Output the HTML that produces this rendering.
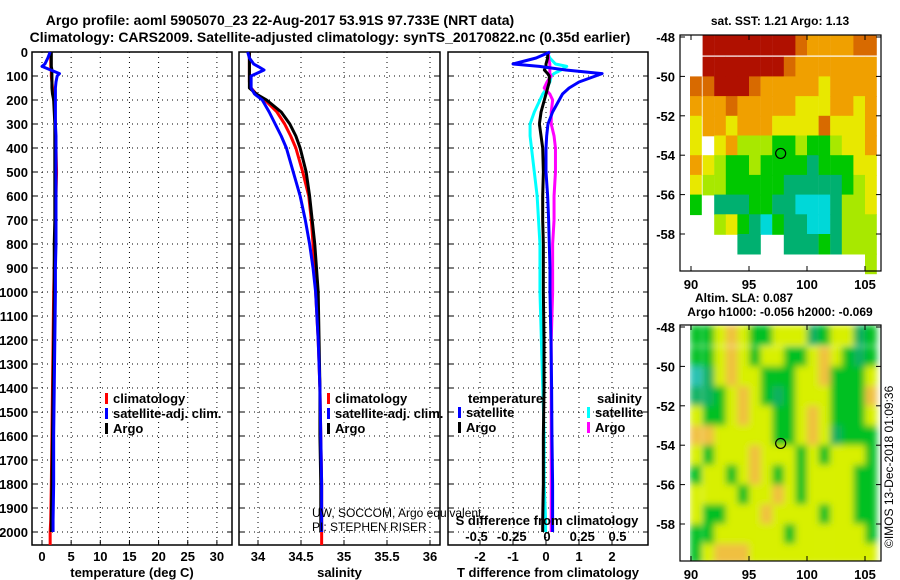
<!DOCTYPE html>
<html><head><meta charset="utf-8"><style>
body{margin:0;background:#fff}
svg{display:block;font-family:"Liberation Sans",sans-serif;font-weight:bold}
</style></head><body>
<svg id="chart" width="900" height="580" viewBox="0 0 900 580" xmlns="http://www.w3.org/2000/svg">
<rect width="900" height="580" fill="#fff"/>
<text x="280" y="25" font-size="14" text-anchor="middle">Argo profile: aoml 5905070_23 22-Aug-2017 53.91S 97.733E (NRT data)</text>
<text x="330" y="42" font-size="14" text-anchor="middle">Climatology: CARS2009. Satellite-adjusted climatology: synTS_20170822.nc (0.35d earlier)</text>
<g id="g"></g>
</svg>
<script>
// ---- data ----
const depths   = [0,25,50,60,75,90,100,125,150,175,200,250,300,350,400,500,600,700,800,900,1000,1200,1400,1600,1800,1950,2000];
const tempArgo = [1.6,1.6,1.6,1.6,1.7,1.7,1.7,1.7,1.7,1.8,2.0,2.1,2.2,2.2,2.2,2.2,2.2,2.2,2.1,2.1,2.1,2.0,1.9,1.8,1.7,1.6,1.6];
const tempClim = [1.5,1.5,1.5,1.5,1.6,1.6,1.6,1.7,1.8,2.0,2.1,2.2,2.3,2.3,2.4,2.5,2.4,2.3,2.2,2.1,2.0,1.9,1.8,1.7,1.6,1.5,1.4];
const tempSat  = [1.4,1.0,0.5,0.0,1.5,3.0,2.6,2.4,2.3,2.3,2.3,2.3,2.3,2.4,2.4,2.4,2.4,2.4,2.4,2.3,2.3,2.2,2.1,2.0,2.0,1.9,1.9];
const salArgo  = [33.9,33.9,33.9,33.9,33.9,33.9,33.9,33.9,33.9,33.98,34.1,34.27,34.37,34.44,34.49,34.56,34.6,34.63,34.66,34.68,34.7,34.71,34.72,34.72,34.73,34.73,34.73];
const salClim  = [33.9,33.9,33.9,33.9,33.9,33.9,33.9,33.9,33.92,33.98,34.08,34.22,34.31,34.38,34.44,34.52,34.59,34.62,34.64,34.66,34.67,34.7,34.72,34.73,34.74,34.74,34.74];
const salSat   = [33.88,33.9,33.95,34.0,34.07,33.98,33.92,33.92,33.92,33.96,34.05,34.13,34.2,34.27,34.33,34.41,34.49,34.55,34.6,34.64,34.67,34.7,34.72,34.73,34.74,34.74,34.74];
const tdiffSat = [0.12,-0.3,-1.0,-0.2,0.6,1.7,1.5,1.0,0.7,0.5,0.4,0.2,0.06,0.02,0.0,0.0,0.05,0.08,0.1,0.12,0.12,0.15,0.17,0.18,0.2,0.2,0.2];
const tdiffArgo= [0.05,0.05,0.0,0.0,-0.05,0.05,0.1,0.1,0.05,0.0,-0.05,-0.15,-0.2,-0.15,-0.1,-0.08,-0.1,-0.1,-0.08,-0.08,-0.08,-0.06,-0.06,-0.08,-0.08,-0.1,-0.1];
const sdiffSat = [0.0,0.02,0.06,0.14,0.1,0.05,0.03,0.02,0.0,-0.03,-0.05,-0.09,-0.12,-0.12,-0.11,-0.09,-0.07,-0.06,-0.05,-0.05,-0.05,-0.04,-0.03,-0.02,-0.02,-0.01,-0.01];
const sdiffArgo= [0.01,0.01,0.02,0.02,0.02,0.02,0.03,0.0,-0.02,0.02,0.04,0.03,0.03,0.05,0.06,0.06,0.05,0.05,0.04,0.04,0.04,0.03,0.03,0.03,0.03,0.03,0.03];
const depthTicks = [0,100,200,300,400,500,600,700,800,900,1000,1100,1200,1300,1400,1500,1600,1700,1800,1900,2000];
const tempTicks = [0,5,10,15,20,25,30];
const salTicks = [34,34.5,35,35.5,36];
const tdTicks = [-2,-1,0,1,2];
const sdTicks = [-0.5,-0.25,0,0.25,0.5];
const sstRows = [
".RRRRRRRRoOOOOoo",
".RRRRRRRoOOOOOOO",
"ooRRRoOOOOOYOOOO",
"OOOoOOOOOYYYOOYO",
"YOOYOOOYYYYoYYYO",
"Y.YOLLLGGLGGLYYO",
"OYLGGLGGGGTGGGYY",
"YLLGGGGGTTTTTGLY",
"G.TTTGGTTCCCTLLY",
"..LYGTCGTTCCTLLL",
"....TT..TTTGTLLL",
"...............L"];
const slaRows = [
"GGYOYGGYYYTGYYTG",
"GGYOYGYYGGYOYGTG",
"CTYOYYGGGYYOGGGY",
"TTGYOYGTGYYYGGGO",
"YGGYOYYGGYOYGGGY",
"OOYYYYYGGYOYTGGG",
"YGYYYOYYYGYGYYYG",
"GYYGYOYGYGYYYYGG",
"YYYYGYYOYGYYYYGG",
"YGGYYYOYYYYGYYGG",
"GGYYYYYYGYYYYYYG",
"GYOOOYYYYYYYYYYY"];
const mapLatTicks=[-48,-50,-52,-54,-56,-58];
const mapLonTicks=[90,95,100,105];
// ---- drawing ----
const NS="http://www.w3.org/2000/svg", G=document.getElementById('g');
function mk(t,a,p){const e=document.createElementNS(NS,t);for(const k in a)e.setAttribute(k,a[k]);(p||G).appendChild(e);return e;}
const yD=d=>52+d*0.24;
const yTop=52,yBot=545;
const panels=[
 {x0:32,x1:232,sx:v=>42+v*5.83,ticks:tempTicks,label:"temperature (deg C)",name:"temperature-panel"},
 {x0:239,x1:440,sx:v=>258+(v-34)*86,ticks:salTicks,label:"salinity",name:"salinity-panel"},
 {x0:448,x1:648,sx:v=>546+v*33,ticks:tdTicks,label:"T difference from climatology",name:"difference-panel"}];
const sdx=v=>547+v*141;
panels.forEach((p,i)=>{
 const r=mk('rect',{x:p.x0,y:yTop,width:p.x1-p.x0,height:yBot-yTop,fill:'none',stroke:'#000','stroke-width':1.5});
 
 
 depthTicks.forEach(d=>{
  const l=mk('line',{x1:p.x0,x2:p.x1,y1:yD(d),y2:yD(d),stroke:'#000','stroke-dasharray':'1,4','stroke-width':1});
  
  
  mk('line',{x1:p.x0,x2:p.x0+5,y1:yD(d),y2:yD(d),stroke:'#000'});
  mk('line',{x1:p.x1-5,x2:p.x1,y1:yD(d),y2:yD(d),stroke:'#000'});
  if(i===0){const t=mk('text',{x:28,y:yD(d)+5,'font-size':13,'text-anchor':'end'});t.textContent=d;
   
   }
 });
 p.ticks.forEach(v=>{
  const x=p.sx(v);
  const l=mk('line',{x1:x,x2:x,y1:yTop,y2:yBot,stroke:'#000','stroke-dasharray':'1,4'});
  
  
  mk('line',{x1:x,x2:x,y1:yBot-5,y2:yBot,stroke:'#000'});
  const t=mk('text',{x:x,y:561,'font-size':13,'text-anchor':'middle'});t.textContent=v;
  
  
 });
 const t=mk('text',{x:(p.x0+p.x1)/2,y:577,'font-size':13,'text-anchor':'middle'});t.textContent=p.label;
 
 
});
function line(xs,sx,color,name,ext){
 const pts=xs.map((v,i)=>sx(v)+','+yD(depths[i]));
 if(ext)pts.push(sx(xs[xs.length-1])+','+yBot);
 const e=mk('polyline',{points:pts.join(' '),fill:'none',stroke:color,'stroke-width':3,'stroke-linejoin':'round'});
 
 
}
line(tempClim,panels[0].sx,'#f00','temp-climatology-line',true);
line(tempArgo,panels[0].sx,'#000','temp-argo-line');
line(tempSat,panels[0].sx,'#00f','temp-satellite-line');
line(salClim,panels[1].sx,'#f00','salinity-climatology-line',true);
line(salArgo,panels[1].sx,'#000','salinity-argo-line');
line(salSat,panels[1].sx,'#00f','salinity-satellite-line');
line(sdiffSat,sdx,'#0ff','sdiff-satellite-line');
line(sdiffArgo,sdx,'#f0f','sdiff-argo-line');
line(tdiffArgo,panels[2].sx,'#000','tdiff-argo-line');
line(tdiffSat,panels[2].sx,'#00f','tdiff-satellite-line');
sdTicks.forEach(v=>{const t=mk('text',{x:sdx(v),y:541,'font-size':13,'text-anchor':'middle'});t.textContent=v;
 
 });
function txt(x,y,s,name,opt){const t=mk('text',Object.assign({x:x,y:y,'font-size':13},opt||{}));t.textContent=s;
 
 return t;}
txt(547,525,"S difference from climatology",'sdiff-axis-title',{'text-anchor':'middle'});
txt(312,517,"UW, SOCCOM, Argo equivalent",'attribution-line-1',{'font-weight':'normal','font-size':12});
txt(312,531,"PI: STEPHEN RISER",'attribution-line-2',{'font-weight':'normal','font-size':12});
function leg(x,y,c,s,name){const r=mk('rect',{x:x,y:y-10,width:3,height:11,fill:c});
 
 
 txt(x+8,y,s,name);}
[[105,'#f00','climatology'],[105,'#00f','satellite-adj. clim.'],[105,'#000','Argo']].forEach((a,i)=>leg(a[0],403+i*15,a[1],a[2],'legend-entry'));
[[327,'#f00','climatology'],[327,'#00f','satellite-adj. clim.'],[327,'#000','Argo']].forEach((a,i)=>leg(a[0],403+i*15,a[1],a[2],'legend-entry'));
txt(468,403,"temperature",'legend-title-temperature');
txt(597,403,"salinity",'legend-title-salinity');
leg(458,417,'#00f','satellite','legend-entry');leg(458,432,'#000','Argo','legend-entry');
leg(587,417,'#0ff','satellite','legend-entry');leg(587,432,'#f0f','Argo','legend-entry');
const sstCol={R:'#b01000',o:'#d86a00',O:'#f0a000',Y:'#e8e800',L:'#a8e800',G:'#00c800',T:'#00b070',C:'#00d8d8'};
const slaCol={G:'#00c020',Y:'#d8f000',O:'#f0c040',T:'#10b060',C:'#20c0b0'};
const defs=mk('defs',{});
const f=mk('filter',{id:'blur',x:'-5%',y:'-5%',width:'110%',height:'110%'},defs);
mk('feGaussianBlur',{stdDeviation:3.5},f);
const cp=mk('clipPath',{id:'clip2'},defs);mk('rect',{x:690,y:325,width:191,height:236},cp);
function drawMap(y0,rows,cols,name,blur){
 const lonX=l=>691+(l-90)*11.6, latY=a=>y0+2+(-48-a)*19.7;
 const g=mk('g',blur?{'clip-path':'url(#clip2)'}:{});
 
 
 const gi=mk('g',blur?{filter:'url(#blur)'}:{},g);
 rows.forEach((row,ri)=>{[...row].forEach((ch,ci)=>{
  if(!cols[ch])return;
  const x=lonX(90+ci),y=latY(-48-ri)-(ri===0?2:0);
  const r=mk('rect',{x:x-(ci===0?1:0),y:y,width:11.8,height:20.5,fill:cols[ch]},gi);
  
  
 });});
 const fr=mk('rect',{x:680,y:y0,width:201,height:236,fill:'none',stroke:'#000','stroke-width':1.2});
 
 
 mapLatTicks.forEach(a=>{const y=latY(a);mk('line',{x1:680,x2:685,y1:y,y2:y,stroke:'#000'});mk('line',{x1:876,x2:881,y1:y,y2:y,stroke:'#000'});
  txt(675,y+5,a,'map-lat-tick-label',{'text-anchor':'end'});});
 mapLonTicks.forEach(l=>{const x=lonX(l);mk('line',{x1:x,x2:x,y1:y0+231,y2:y0+236,stroke:'#000'});mk('line',{x1:x,x2:x,y1:y0,y2:y0+5,stroke:'#000'});
  txt(x,y0+254,l,'map-lon-tick-label',{'text-anchor':'middle'});});
 const c=mk('circle',{cx:lonX(97.73),cy:latY(-53.91),r:5,fill:'none',stroke:'#000','stroke-width':1.2});
 
 
}
drawMap(35,sstRows,sstCol,'sst-map',false);
drawMap(325,slaRows,slaCol,'sla-map',true);
txt(780,25,"sat. SST: 1.21 Argo: 1.13",'sst-map-title',{'text-anchor':'middle','font-size':12});
txt(744,302,"Altim. SLA: 0.087",'sla-map-title',{'text-anchor':'middle','font-size':12});
txt(780,316,"Argo h1000: -0.056 h2000: -0.069",'sla-map-subtitle',{'text-anchor':'middle','font-size':12});
txt(0,0,"©IMOS 13-Dec-2018 01:09:36",'imos-credit',{'font-weight':'normal','font-size':12,transform:'translate(893,548) rotate(-90)'});
</script>
</body></html>
